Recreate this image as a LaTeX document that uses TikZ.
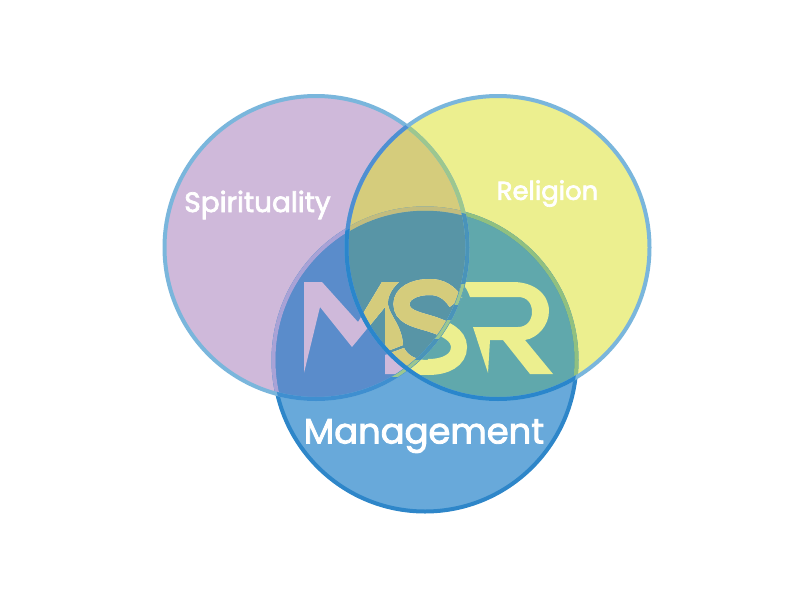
\documentclass[tikz,border=0pt]{standalone}
\usepackage{fontspec}
\newfontfamily\labfont[FakeBold=2.6]{Poppins}
\definecolor{cP}{HTML}{CFB9DA}
\definecolor{cY}{HTML}{ECEF8F}
\definecolor{cPY}{HTML}{D5CC7C}
\definecolor{cB}{HTML}{68A9DA}
\definecolor{cBP}{HTML}{5A8CCB}
\definecolor{cBY}{HTML}{60A8AC}
\definecolor{cBPY}{HTML}{5895A6}
\definecolor{sOut}{HTML}{7AB6DC}
\definecolor{sBlue}{HTML}{2E86C9}
\definecolor{sBinP}{HTML}{A9A2D6}
\definecolor{sBinY}{HTML}{90C080}
\definecolor{sBinPY}{HTML}{C2BC7E}
\definecolor{sPinY}{HTML}{9CC78F}
\definecolor{sPinB}{HTML}{3F8FD0}
\definecolor{sPinBY}{HTML}{4A94B8}
\definecolor{sYinP}{HTML}{4F8FD2}
\definecolor{sYinB}{HTML}{2A86CC}
\newcommand\circP{(316,247.5) circle[radius=151.5]}
\newcommand\circY{(498,247.5) circle[radius=151.5]}
\newcommand\circB{(425,360) circle[radius=151.5]}
\newcommand\drawLetters[1]{%
  \fill[#1] (304,282) -- (322,282) -- (358,322) -- (382,282) -- (399,282)
    .. controls (391,289) and (387,298) .. (388,305)
    .. controls (390,316) and (402,326) .. (403,345)
    -- (385,352) -- (385,307) -- (352,347) -- (320,307) -- (304,373) -- cycle;
  \fill[#1] (385,355) -- (404,348)
    .. controls (408,356) and (416,360) .. (428,360)
    -- (428,375) -- (385,374) -- cycle;
  \draw[#1,line width=12pt,line cap=butt] (456,302)
    .. controls (449,292) and (441,287) .. (430,287)
    .. controls (413,287) and (401.5,294) .. (401.5,304)
    .. controls (401.5,316) and (414,319) .. (428,323)
    .. controls (445,328) and (459,335) .. (459,347)
    .. controls (459,360) and (446,367) .. (428,367);
  \fill[#1] (461,282) -- (513,282)
    .. controls (535,282) and (549,295) .. (549,311)
    .. controls (549,325) and (538,338) .. (525,340)
    -- (553,374) -- (530,374) -- (503,340) -- (490,340) -- (488,373) -- (473,327)
    -- (518,327) .. controls (527,327) and (532,320) .. (532,312)
    .. controls (532,303) and (527,297) .. (518,297)
    -- (470,297) .. controls (468,291) and (465,286) .. (461,282) -- cycle;
}
\tikzset{lab/.style={text=white,inner sep=0pt,font=\labfont}}
\begin{document}
\begin{tikzpicture}[x=0.75pt,y=-0.75pt]
\useasboundingbox (0,0) rectangle (800,600);
\fill[white] (0,0) rectangle (800,600);
% region fills
\fill[cB] \circB;
\fill[cP] \circP;
\fill[cY] \circY;
\begin{scope}\clip \circP; \fill[cPY] \circY; \end{scope}
\begin{scope}\clip \circB; \fill[cBP] \circP; \fill[cBY] \circY;
  \begin{scope}\clip \circP; \fill[cBPY] \circY; \end{scope}
\end{scope}
% monogram, with its colour taken from the region beneath
\begin{scope}\clip \circP; \drawLetters{cP} \end{scope}
\begin{scope}\clip \circY; \drawLetters{cY} \end{scope}
\begin{scope}\clip \circP; \clip \circY; \drawLetters{cPY} \end{scope}
% blue outline
\draw[sBlue,line width=3pt] \circB;
\begin{scope}\clip \circP; \draw[sBinP,line width=3pt] \circB; \end{scope}
\begin{scope}\clip \circY; \draw[sBinY,line width=3pt] \circB; \end{scope}
\begin{scope}\clip \circP; \clip \circY; \draw[sBinPY,line width=3pt] \circB; \end{scope}
% purple outline
\draw[sOut,line width=3pt] \circP;
\begin{scope}\clip \circY; \draw[sPinY,line width=3pt] \circP; \end{scope}
\begin{scope}\clip \circB; \draw[sPinB,line width=3pt] \circP; \end{scope}
\begin{scope}\clip \circB; \clip \circY; \draw[sPinBY,line width=2.4pt] \circP; \end{scope}
% purple outline where it runs over the letters
\begin{scope}\clip (440,284) rectangle (480,304); \draw[sPinY,line width=2.4pt] \circP; \end{scope}
\begin{scope}\clip (430,320) rectangle (460,338); \draw[sPinY,line width=2.4pt] \circP; \end{scope}
\begin{scope}\clip (390,360) rectangle (430,376); \draw[sPinY,line width=2.4pt] \circP; \end{scope}
% yellow outline
\draw[sOut,line width=3pt] \circY;
\begin{scope}\clip \circP; \draw[sYinP,line width=3pt] \circY; \end{scope}
\begin{scope}\clip \circB; \draw[sYinB,line width=3pt] \circY; \end{scope}
% labels
\node[lab,font=\labfont\fontsize{21pt}{22pt}\selectfont] (spirit) at (257.5,205) {Spirituality};
\node[lab,font=\labfont\fontsize{19.4pt}{20pt}\selectfont] (relig) at (547.5,193.5) {Religion};
\node[lab,font=\labfont\fontsize{26.5pt}{30pt}\selectfont] (mgmt) at (424,436) {Management};
\end{tikzpicture}
\end{document}
